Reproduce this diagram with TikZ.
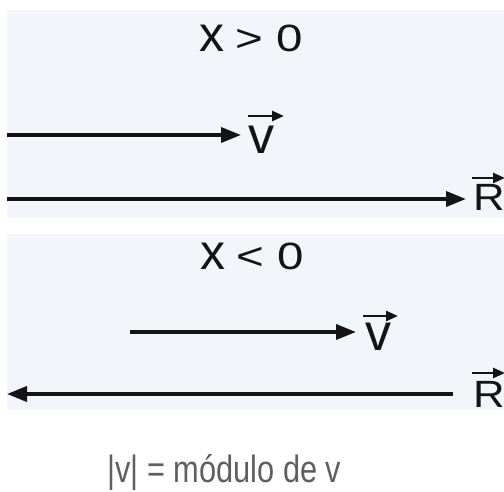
\documentclass[tikz,border=0pt]{standalone}
\usepackage{fontspec}
\setmainfont{Liberation Sans}
\usetikzlibrary{arrows.meta}
\definecolor{panel}{RGB}{242,245,250}
\definecolor{ink}{RGB}{20,20,20}
\definecolor{lightink}{RGB}{95,95,95}
\tikzset{
  vecarrow/.style={draw=ink, line width=3.6pt, -{Triangle[length=20pt,width=15pt]}},
  overarrow/.style={draw=ink, line width=2.6pt, -{Triangle[length=12pt,width=10pt]}},
  lab/.style={inner sep=0pt, anchor=base, text=ink},
  bigtxt/.style={font=\fontsize{38}{40}\selectfont},
}
\begin{document}
\begin{tikzpicture}[x=1pt,y=-1pt]
\useasboundingbox (0,0) rectangle (504,491);
\fill[white] (0,0) rectangle (504,491);
% panels
\fill[panel] (7,10) rectangle (504,218);
\fill[panel] (7,234) rectangle (504,410);
% titles
\node[lab, bigtxt] (t1) at (251,51) {{\fontsize{50}{50}\selectfont x}~\scalebox{1.25}[1]{>~0}};
\node[lab, bigtxt] (t2) at (252,269) {{\fontsize{50}{50}\selectfont x}~\scalebox{1.25}[1]{<~0}};
% top panel
\node[lab, font=\fontsize{52}{52}\selectfont] (v1) at (261,153) {v};
\coordinate (v1s) at (7,135);
\coordinate (v1e) at (241,135);
\draw[vecarrow] (v1s) -- (v1e);
\coordinate (v1a) at (248,116);
\coordinate (v1b) at (284,116);
\draw[overarrow] (v1a) -- (v1b);
\node[lab, bigtxt] (r1) at (489,210) {\scalebox{1.15}[1]{R}};
\coordinate (r1s) at (7,199);
\coordinate (r1e) at (466,199);
\draw[vecarrow] (r1s) -- (r1e);
\coordinate (r1a) at (472,178);
\coordinate (r1b) at (505,178);
\draw[overarrow] (r1a) -- (r1b);
% bottom panel
\node[lab, font=\fontsize{52}{52}\selectfont] (v2) at (378,350) {v};
\coordinate (v2s) at (130,332);
\coordinate (v2e) at (356,332);
\draw[vecarrow] (v2s) -- (v2e);
\coordinate (v2a) at (363,316);
\coordinate (v2b) at (398,316);
\draw[overarrow] (v2a) -- (v2b);
\node[lab, bigtxt] (r2) at (489,407) {\scalebox{1.15}[1]{R}};
\coordinate (r2s) at (453,394);
\coordinate (r2e) at (7,394);
\draw[vecarrow] (r2s) -- (r2e);
\coordinate (r2a) at (472,373);
\coordinate (r2b) at (505,373);
\draw[overarrow] (r2a) -- (r2b);
% caption
\node[inner sep=0pt, anchor=base west, text=lightink, font=\fontsize{38}{40}\selectfont] (cap) at (107,482) {\scalebox{0.81}[1]{|v| = módulo de v}};
\end{tikzpicture}
\end{document}
